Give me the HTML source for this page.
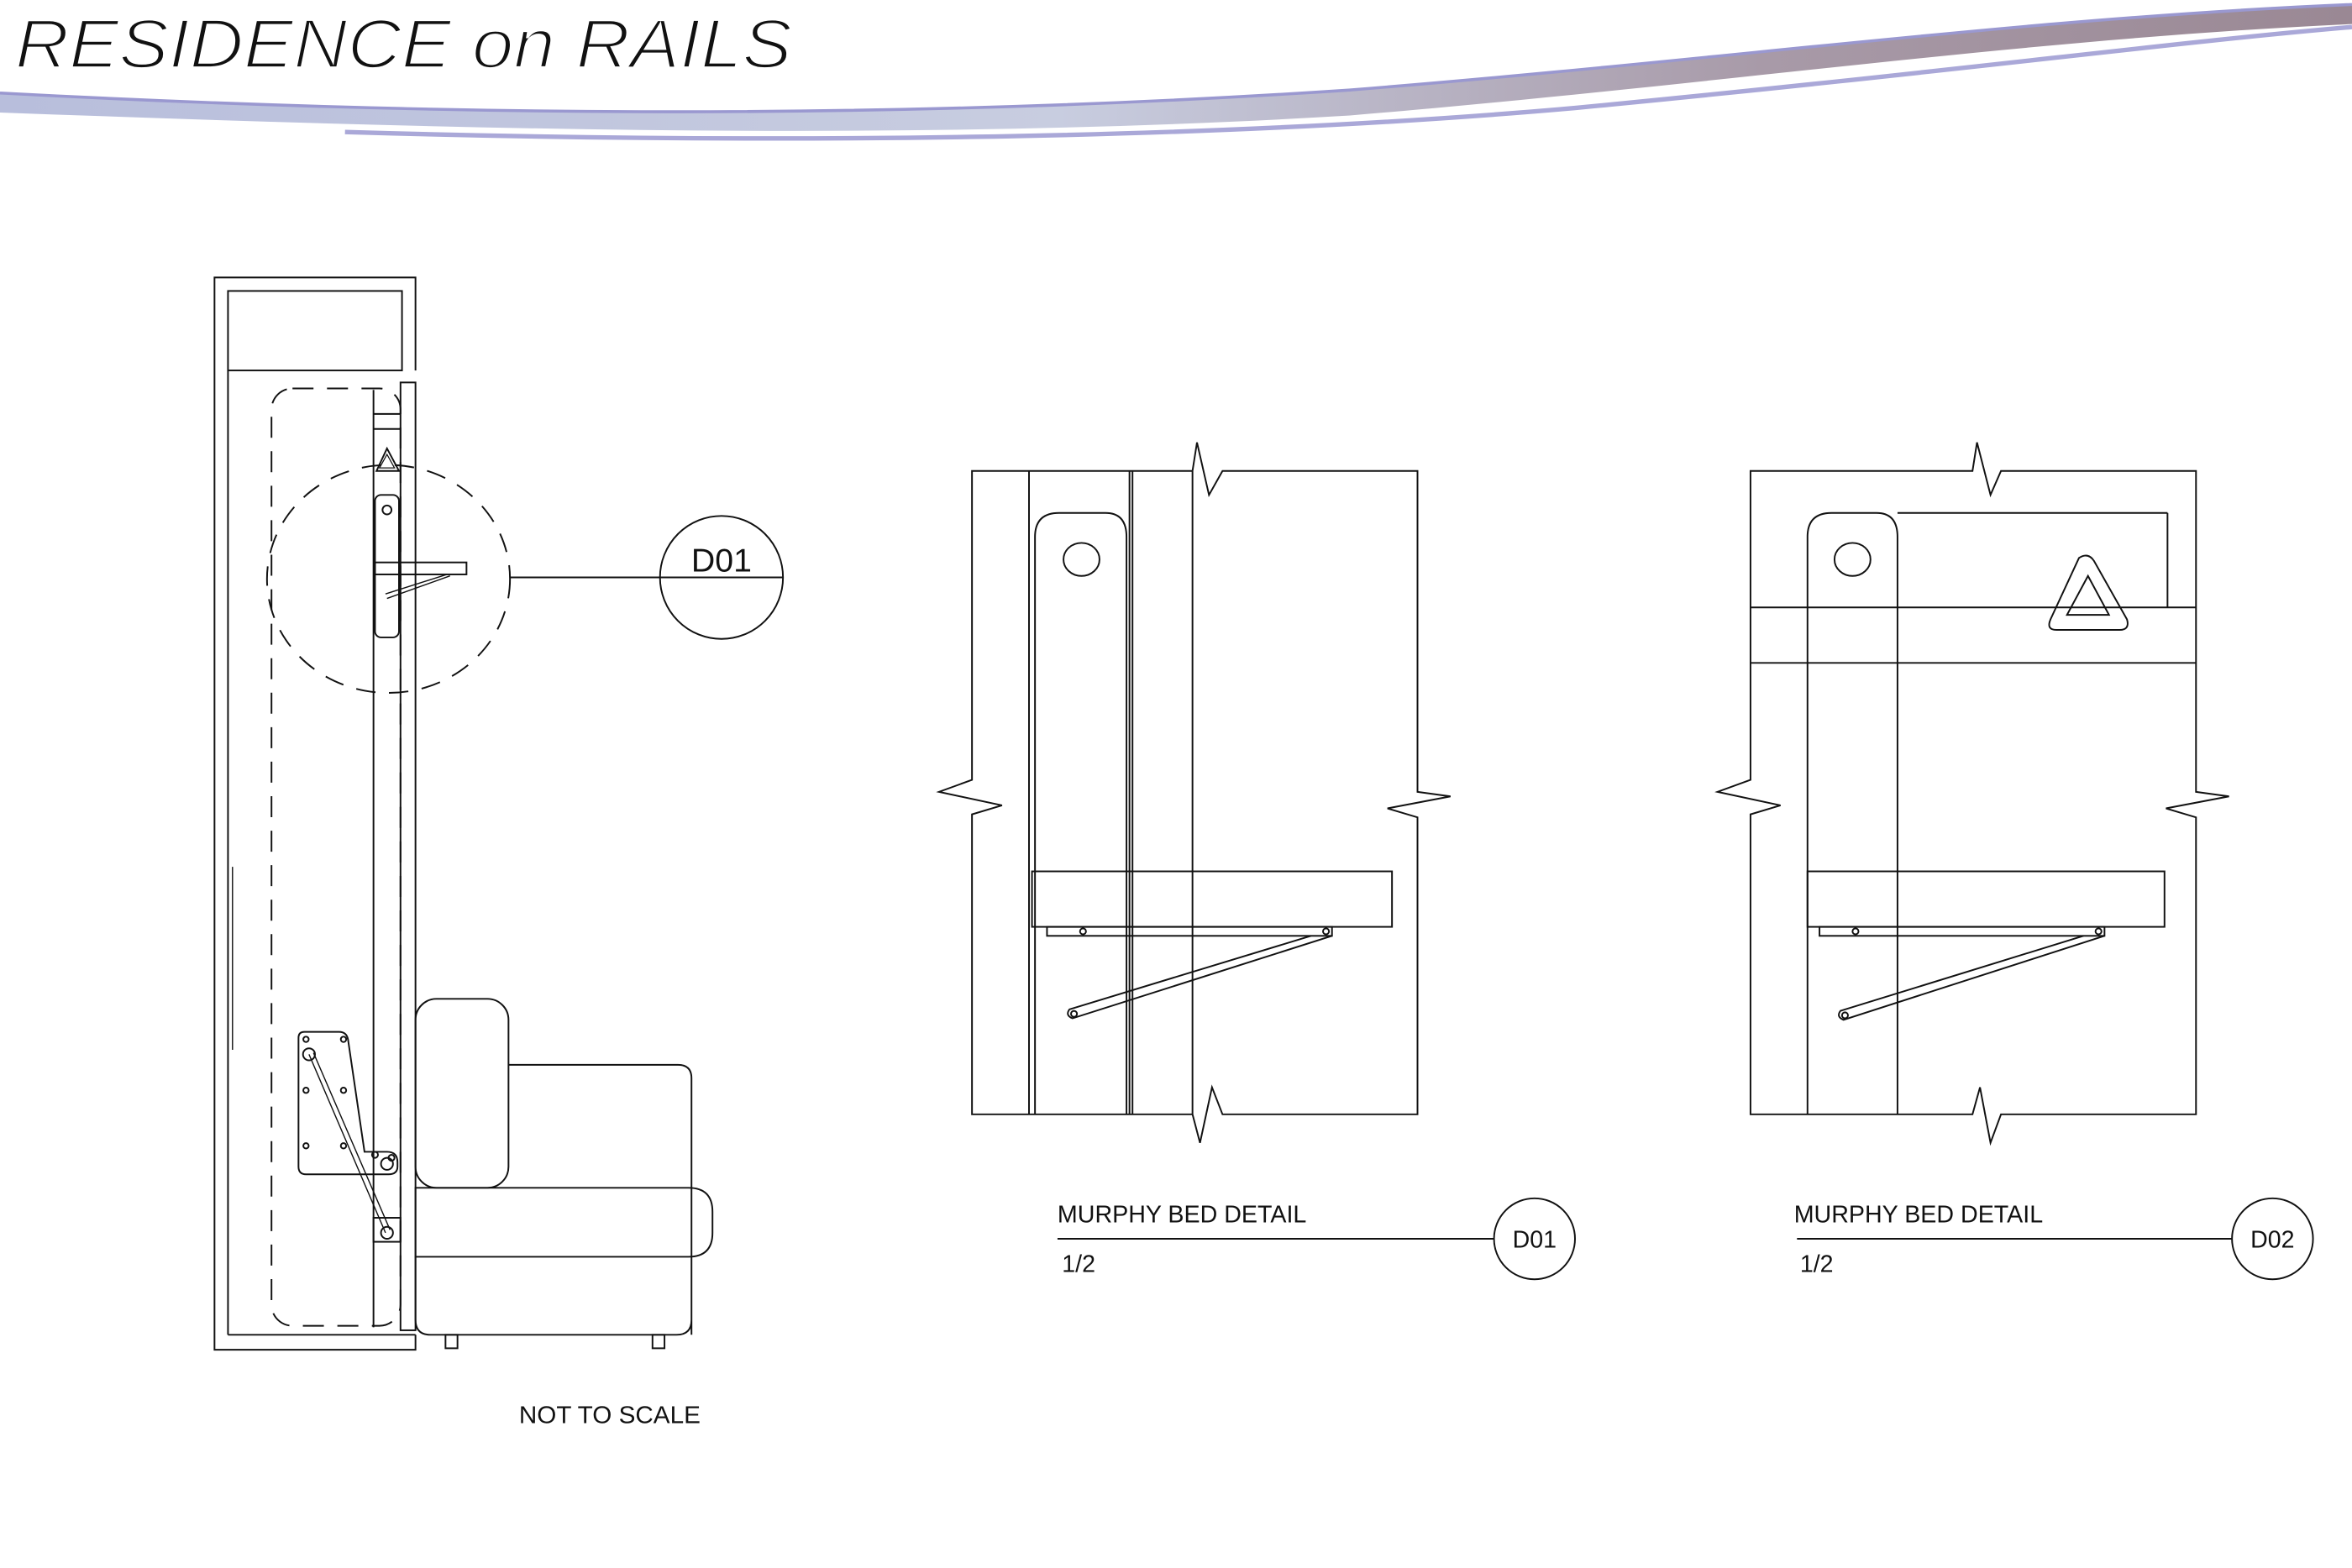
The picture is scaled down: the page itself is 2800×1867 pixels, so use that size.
<!DOCTYPE html>
<html><head><meta charset="utf-8"><style>
html,body{margin:0;padding:0;background:#fff;}
svg{display:block;}
text{font-family:"Liberation Sans",sans-serif;}
</style></head><body>
<svg width="2800" height="1867" viewBox="0 0 1568 1045.5" xmlns="http://www.w3.org/2000/svg">
<defs>
<linearGradient id="sw" x1="0" y1="0" x2="1" y2="0">
<stop offset="0" stop-color="#b8bedc"/>
<stop offset="0.45" stop-color="#c8cde0"/>
<stop offset="0.75" stop-color="#a89aa8"/>
<stop offset="1" stop-color="#9a8894"/>
</linearGradient>
</defs>
<rect width="1568" height="1046" fill="#fff"/>
<!-- header swoosh -->
<path d="M0,62 C300,78 600,80 900,60 C1150,40 1350,12 1568,3 L1568,16 C1350,26 1150,56 900,77 C600,95 300,86 0,75 Z" fill="url(#sw)"/>
<path d="M0,62 C300,78 600,80 900,60 C1150,40 1350,12 1568,3" fill="none" stroke="#9a98d0" stroke-width="2"/>
<path d="M230,88 C500,96 800,94 1050,72 C1300,48 1450,28 1568,18" fill="none" stroke="#aaa8d8" stroke-width="3"/>
<text x="10" y="45" font-size="46" font-style="italic" textLength="518" lengthAdjust="spacingAndGlyphs" fill="#111" stroke="#fff" stroke-width="1.6" paint-order="normal">RESIDENCE on RAILS</text>

<g fill="none" stroke="#111" stroke-width="1.1">
<!-- LEFT DRAWING -->
<path d="M277,247 L277,185 L143,185 L143,900 L277,900 L277,890"/>
<rect x="152" y="194" width="116" height="53"/>
<line x1="152" y1="247" x2="152" y2="890"/>
<line x1="152" y1="890" x2="277" y2="890"/>
<rect x="267" y="255" width="10" height="632"/>
<line x1="249" y1="260" x2="249" y2="885"/>
<line x1="249" y1="276" x2="267" y2="276"/>
<line x1="249" y1="286" x2="267" y2="286"/>
<line x1="155" y1="578" x2="155" y2="700" stroke-width="0.8"/>
<rect x="181" y="259" width="86" height="625" rx="14" stroke-dasharray="14,9"/>
<ellipse cx="259" cy="386" rx="81" ry="76" stroke-dasharray="13,9"/>
<path d="M258,299 L266,314 L251,314 Z"/>
<path d="M258,303 L263,312 L253,312 Z" stroke-width="0.7"/>
<rect x="250" y="330" width="16" height="95" rx="4"/>
<circle cx="258" cy="340" r="3"/>
<rect x="250" y="375" width="61" height="8"/>
<path d="M253,383 L298,383 M258,399 L300,384 M257,396 L298,383" stroke-width="0.8"/>
<line x1="340" y1="385" x2="440" y2="385"/>
<circle cx="481" cy="385" r="41"/>
<line x1="440" y1="385" x2="522" y2="385"/>
<!-- mechanism -->
<path d="M203,688 L226,688 Q231,688 232,693 L243,768 L258,768 Q265,768 265,775 L265,778 Q265,783 259,783 L204,783 Q199,783 199,778 L199,692 Q199,688 203,688 Z"/>
<circle cx="204" cy="693" r="1.8"/><circle cx="229" cy="693" r="1.8"/>
<circle cx="204" cy="727" r="1.8"/><circle cx="229" cy="727" r="1.8"/>
<circle cx="204" cy="764" r="1.8"/><circle cx="229" cy="764" r="1.8"/>
<circle cx="206" cy="703" r="4"/>
<circle cx="258" cy="776" r="4"/><circle cx="250" cy="770" r="2"/><circle cx="261" cy="772" r="2"/>
<path d="M206,703 L257,822 M209,702 L260,820" stroke-width="0.8"/>
<rect x="249" y="812" width="18" height="16"/>
<circle cx="258" cy="822" r="4"/>
<!-- sofa -->
<rect x="277" y="666" width="62" height="126" rx="14"/>
<path d="M339,710 L452,710 Q461,710 461,719 L461,890 M461,838 L461,880 Q461,890 451,890 L287,890 Q277,890 277,880 L277,838"/>
<path d="M277,792 L459,792 Q475,792 475,808 L475,822 Q475,838 459,838 L277,838 Z"/>
<rect x="297" y="890" width="8" height="9"/>
<rect x="435" y="890" width="8" height="9"/>

<!-- D01 DETAIL -->
<path d="M795,314 L648,314 L648,520 L626,528 L668,537 L648,543 L648,743 L795,743"/>
<path d="M795,314 L798,295 L806,330 L815,314 L945,314 L945,528 L967,531 L925,539 L945,545 L945,743 L815,743 L808,725 L800,762 L795,743"/>
<line x1="686" y1="314" x2="686" y2="743"/>
<line x1="753" y1="314" x2="753" y2="743"/>
<line x1="755" y1="314" x2="755" y2="743"/>
<line x1="795" y1="314" x2="795" y2="743"/>
<path d="M690,743 L690,358 Q690,342 706,342 L737,342 Q751,342 751,358 L751,743"/>
<ellipse cx="721" cy="373" rx="12" ry="11"/>
<rect x="688" y="581" width="240" height="37"/>
<rect x="698" y="618" width="190" height="6"/>
<circle cx="722" cy="621" r="2"/><circle cx="884" cy="621" r="2"/>
<path d="M874,624 L713,673 Q710,677 715,679 L888,624"/>
<circle cx="716" cy="676" r="2"/>
<text x="705" y="815" font-size="16" fill="#111" stroke="none" textLength="166" lengthAdjust="spacingAndGlyphs">MURPHY BED DETAIL</text>
<line x1="705" y1="826" x2="996" y2="826"/>
<circle cx="1023" cy="826" r="27"/>
<text x="1023" y="832" font-size="16" fill="#111" stroke="none" text-anchor="middle">D01</text>
<text x="708" y="848" font-size="16" fill="#111" stroke="none">1/2</text>

<!-- D02 DETAIL -->
<path d="M1167,314 L1167,520 L1145,528 L1187,537 L1167,543 L1167,743 L1315,743 L1320,725 L1327,762 L1334,743 L1464,743 L1464,545 L1444,539 L1486,531 L1464,528 L1464,314 L1334,314 L1327,330 L1318,295 L1315,314 Z"/>
<line x1="1167" y1="405" x2="1464" y2="405"/>
<line x1="1167" y1="442" x2="1464" y2="442"/>
<line x1="1445" y1="342" x2="1445" y2="405"/>
<line x1="1265" y1="342" x2="1445" y2="342"/>
<path d="M1205,743 L1205,358 Q1205,342 1221,342 L1251,342 Q1265,342 1265,358 L1265,743"/>
<ellipse cx="1235" cy="373" rx="12" ry="11"/>
<path d="M1386,372 Q1392,368 1396,374 L1418,413 Q1420,420 1413,420 L1371,420 Q1364,420 1367,413 Z"/>
<path d="M1392,384 L1406,410 L1378,410 Z"/>
<rect x="1205" y="581" width="238" height="37"/>
<rect x="1213" y="618" width="190" height="6"/>
<circle cx="1237" cy="621" r="2"/><circle cx="1399" cy="621" r="2"/>
<path d="M1389,624 L1227,674 Q1224,678 1229,680 L1403,624"/>
<circle cx="1230" cy="677" r="2"/>
<text x="1196" y="815" font-size="16" fill="#111" stroke="none" textLength="166" lengthAdjust="spacingAndGlyphs">MURPHY BED DETAIL</text>
<line x1="1198" y1="826" x2="1488" y2="826"/>
<circle cx="1515" cy="826" r="27"/>
<text x="1515" y="832" font-size="16" fill="#111" stroke="none" text-anchor="middle">D02</text>
<text x="1200" y="848" font-size="16" fill="#111" stroke="none">1/2</text>
</g>
<text x="481" y="381" font-size="22" fill="#111" text-anchor="middle">D01</text>
<text x="346" y="949" font-size="16" fill="#111" textLength="121" lengthAdjust="spacingAndGlyphs">NOT TO SCALE</text>
</svg>
</body></html>
